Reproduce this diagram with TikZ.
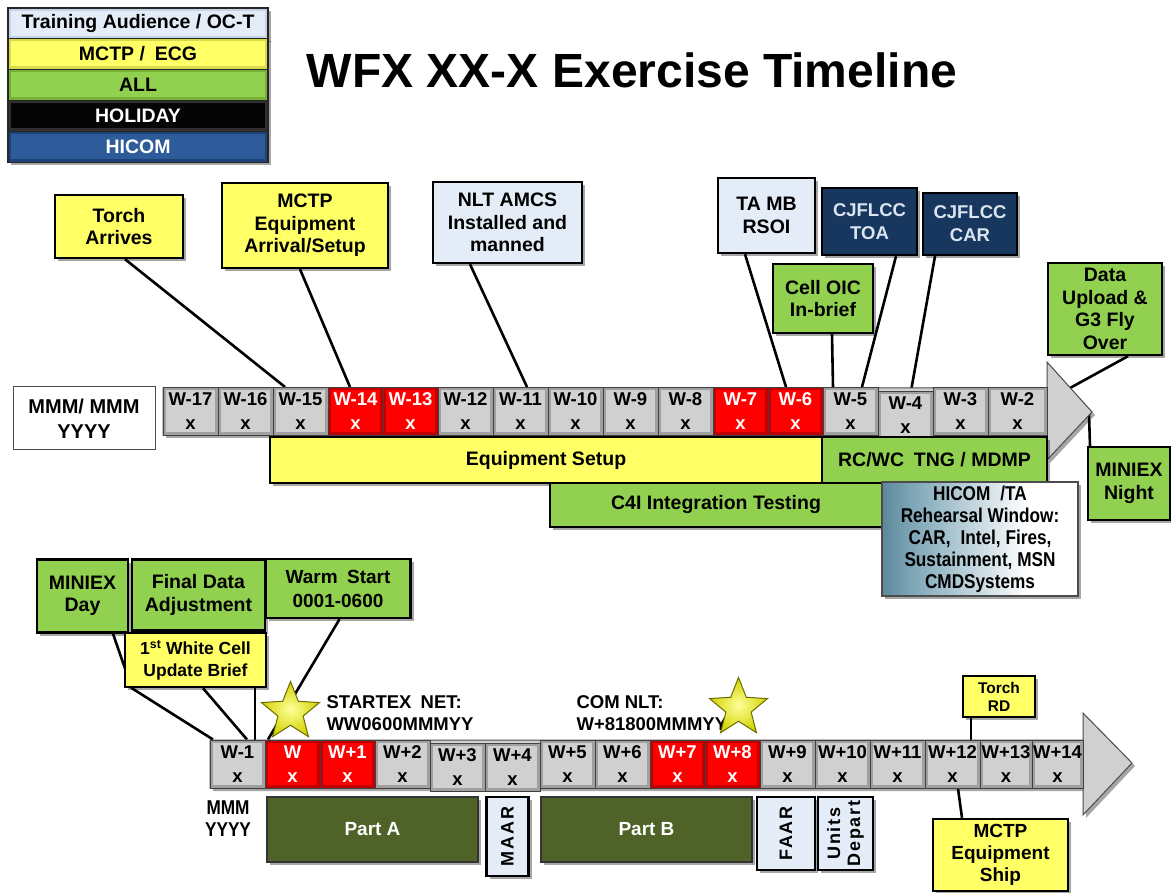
\documentclass[tikz,border=0pt]{standalone}
\usepackage{fontspec}
\setmainfont{Liberation Sans}
\newfontfamily\narrowsans[FakeStretch=0.86]{Liberation Sans}
\newfontfamily\spacedsans[LetterSpace=10]{Liberation Sans}
\usetikzlibrary{shapes.geometric,shadows}

\definecolor{cyellow}{HTML}{FFFF66}
\definecolor{cyellowd}{HTML}{D9D94C}
\definecolor{cgreen}{HTML}{92D050}
\definecolor{cgreend}{HTML}{76B036}
\definecolor{clight}{HTML}{E3ECF7}
\definecolor{clightd}{HTML}{C5D3E6}
\definecolor{cnavy}{HTML}{17375E}
\definecolor{cnavytext}{HTML}{DBE5F1}
\definecolor{cblue}{HTML}{2E5C9A}
\definecolor{cblued}{HTML}{1F4276}
\definecolor{cblack}{HTML}{050505}
\definecolor{cblackd}{HTML}{303030}
\definecolor{cgrey}{HTML}{D0D0D0}
\definecolor{cgreyd}{HTML}{A0A0A0}
\definecolor{cred}{HTML}{FF0000}
\definecolor{credd}{HTML}{C00000}
\definecolor{colive}{HTML}{4F6228}
\definecolor{hdark}{HTML}{1C4A60}
\definecolor{hmid}{HTML}{7FA7B8}
\definecolor{starin}{HTML}{FFFF9A}
\definecolor{starout}{HTML}{D2D200}
\definecolor{starline}{HTML}{6B6B00}

\pgfdeclarehorizontalshading{hicomgrad}{100bp}{color(0bp)=(hdark); color(9bp)=(hdark); color(33bp)=(hmid); color(62bp)=(white); color(100bp)=(white)}

\pgfdeclarelayer{paper}
\pgfdeclarelayer{links}
\pgfsetlayers{paper,links,main}

\tikzset{
  shad/.style={drop shadow={shadow xshift=3pt, shadow yshift=-3pt, opacity=0.35, fill=black}},
  bevel/.style 2 args={fill=#1, path picture={\fill[#2]
      ([shift={(3pt,-3pt)}]path picture bounding box.north west) rectangle
      ([shift={(-3pt,3pt)}]path picture bounding box.south east);}},
  callout/.style={draw=black, line width=2.4pt, align=center, inner sep=2pt, shad,
      font=\bfseries\fontsize{19.5}{22.5}\selectfont},
  yelbox/.style={callout, fill=cyellow},
  grnbox/.style={callout, fill=cgreen},
  lblbox/.style={callout, fill=clight},
  navbox/.style={callout, fill=cnavy, text=cnavytext, font=\bfseries\fontsize{18.5}{23}\selectfont},
  olvbox/.style={callout, fill=colive, text=white, line width=1.2pt, draw=black!80,
      font=\bfseries\fontsize{19}{22}\selectfont},
  week/.style={draw=black!75, line width=1pt, minimum width=55pt, minimum height=48pt,
      inner sep=0pt, align=center, font=\bfseries\fontsize{18.5}{24}\selectfont,
      bevel={cgreyd}{cgrey}},
  redweek/.style={week, bevel={credd}{cred}, text=white},
  lgrow/.style 2 args={draw=black!85, line width=1.2pt, minimum width=260pt,
      minimum height=31pt, inner sep=0pt, font=\bfseries\fontsize{19.5}{20}\selectfont,
      bevel={#1}{#2}, shad},
  link/.style={draw=black, line width=2.6pt},
  startag/.style={star, star points=5, star point ratio=2.3, minimum size=61pt,
      draw=starline, line width=1pt, inner color=starin, outer color=starout},
  note/.style={align=left, anchor=west, font=\bfseries\fontsize{18.5}{22}\selectfont}
}

\begin{document}
\begin{tikzpicture}[x=1pt,y=-1pt]
\useasboundingbox (0,0) rectangle (1171,893);
\begin{pgfonlayer}{paper}
  \fill[white] (0,0) rectangle (1171,893);
\end{pgfonlayer}

% ---------- legend ----------
\node[lgrow={clightd}{clight}] (lgta) at (138,23.5) {Training Audience / OC-T};
\node[lgrow={cyellowd}{cyellow}] (lgmctp) at (138,54) {MCTP /\enspace ECG};
\node[lgrow={cgreend}{cgreen}] (lgall) at (138,85) {ALL};
\node[lgrow={cblackd}{cblack}, text=white] (lghol) at (138,116) {HOLIDAY};
\node[lgrow={cblued}{cblue}, text=white] (lghicom) at (138,147) {HICOM};

% ---------- title ----------
\node[font=\bfseries\fontsize{48}{56}\selectfont] (title) at (632,70) {WFX XX-X Exercise Timeline};

% ---------- upper timeline ----------
\filldraw[fill=cgrey, draw=black!70, line width=1pt, shad]
  (163,388) -- (1047,388) -- (1047,362) -- (1092,412) -- (1047,460)
  -- (1047,435) -- (163,435) -- cycle;
\coordinate (headedge) at (1070,388);
\coordinate (tipdrop) at (1089,414);

\node[draw=black!70, line width=1pt, fill=white, minimum width=142pt, minimum height=63pt,
  align=center, font=\bfseries\fontsize{20}{25}\selectfont] (mmmtop) at (84,418.5) {MMM/ MMM\\YYYY};

\node[week] (wk17) at (190.5,411.5) {W-17\\x};
\node[week] (wk16) at (245.5,411.5) {W-16\\x};
\node[week] (wk15) at (300.5,411.5) {W-15\\x};
\node[redweek] (wk14) at (355.5,411.5) {W-14\\x};
\node[redweek] (wk13) at (410.5,411.5) {W-13\\x};
\node[week] (wk12) at (465.5,411.5) {W-12\\x};
\node[week] (wk11) at (520.5,411.5) {W-11\\x};
\node[week] (wk10) at (575.5,411.5) {W-10\\x};
\node[week] (wk9) at (630.5,411.5) {W-9\\x};
\node[week] (wk8) at (685.5,411.5) {W-8\\x};
\node[redweek] (wk7) at (740.5,411.5) {W-7\\x};
\node[redweek] (wk6) at (795.5,411.5) {W-6\\x};
\node[week] (wk5) at (850.5,411.5) {W-5\\x};
\node[week] (wk4) at (905.5,415.5) {W-4\\x};
\node[week] (wk3) at (960.5,411.5) {W-3\\x};
\node[week, minimum width=59pt] (wk2) at (1017.5,411.5) {W-2\\x};

% bars under the upper timeline
\node[yelbox, minimum width=552pt, minimum height=46pt] (eqsetup) at (546,460) {Equipment Setup};
\node[grnbox, minimum width=225pt, minimum height=46pt] (rcwc) at (934.5,460) {RC/WC\enspace TNG / MDMP};
\node[grnbox, minimum width=332pt, minimum height=44pt] (c4i) at (716,505) {C4I Integration Testing};
\node[callout, shade, shading=hicomgrad, draw=black!70, line width=1.5pt,
  minimum width=196pt, minimum height=114pt,
  font=\narrowsans\bfseries\fontsize{20}{22}\selectfont] (hicom) at (980,539)
  {HICOM\enspace/TA\\Rehearsal Window:\\CAR,\enspace Intel, Fires,\\Sustainment, MSN\\CMDSystems};

% upper callouts
\node[yelbox, minimum width=128pt, minimum height=63pt] (torch) at (119,226.5) {Torch\\Arrives};
\node[yelbox, minimum width=166pt, minimum height=85pt] (mctp) at (305,225.5) {MCTP\\Equipment\\Arrival/Setup};
\node[lblbox, minimum width=149pt, minimum height=81pt] (nlt) at (507.5,222.5) {NLT AMCS\\Installed and\\manned};
\node[lblbox, minimum width=97pt, minimum height=75pt] (tamb) at (766.5,215.5) {TA MB\\RSOI};
\node[navbox, minimum width=95pt, minimum height=67pt] (toa) at (869.5,221.5) {CJFLCC\\TOA};
\node[navbox, minimum width=94pt, minimum height=62pt] (car) at (970,224) {CJFLCC\\CAR};
\node[grnbox, minimum width=100pt, minimum height=69pt] (celloic) at (823,298.5) {Cell OIC\\In-brief};
\node[grnbox, minimum width=114pt, minimum height=92pt] (dataup) at (1105,309) {Data\\Upload \&\\G3 Fly\\Over};
\node[grnbox, minimum width=82pt, minimum height=73pt] (miniexn) at (1129,483.5) {MINIEX\\Night};

% ---------- lower timeline ----------
\filldraw[fill=cgrey, draw=black!70, line width=1pt, shad]
  (210,740) -- (1083,740) -- (1083,713) -- (1132,763) -- (1083,815)
  -- (1083,788) -- (210,788) -- cycle;

\node[week] (wm1) at (237.5,764) {W-1\\x};
\node[redweek] (w0) at (292.5,764) {W\\x};
\node[redweek] (wp1) at (347.5,764) {W+1\\x};
\node[week] (wp2) at (402.5,764) {W+2\\x};
\node[week] (wp3) at (457.5,767) {W+3\\x};
\node[week] (wp4) at (512.5,767) {W+4\\x};
\node[week] (wp5) at (567.5,764) {W+5\\x};
\node[week] (wp6) at (622.5,764) {W+6\\x};
\node[redweek] (wp7) at (677.5,764) {W+7\\x};
\node[redweek] (wp8) at (732.5,764) {W+8\\x};
\node[week] (wp9) at (787.5,764) {W+9\\x};
\node[week] (wp10) at (842.5,764) {W+10\\x};
\node[week] (wp11) at (897.5,764) {W+11\\x};
\node[week] (wp12) at (952.5,764) {W+12\\x};
\node[week, minimum width=52pt] (wp13) at (1006,764) {W+13\\x};
\node[week, minimum width=51pt] (wp14) at (1057.5,764) {W+14\\x};

\node[align=center, font=\narrowsans\bfseries\fontsize{20}{22}\selectfont] (mmmlow) at (228,819) {MMM\\YYYY};

% exercise blocks
\node[olvbox, minimum width=211pt, minimum height=65pt] (parta) at (372.5,829.5) {Part A};
\node[olvbox, minimum width=211pt, minimum height=65pt] (partb) at (646.5,829.5) {Part B};
\node[lblbox, rotate=90, minimum width=79pt, minimum height=42pt, inner sep=0pt,
  font=\spacedsans\bfseries\fontsize{18}{20}\selectfont] (maar) at (507.5,836.5) {MAAR};
\node[lblbox, rotate=90, minimum width=73pt, minimum height=58pt, inner sep=0pt,
  font=\spacedsans\bfseries\fontsize{18}{20}\selectfont] (faar) at (786,833.5) {FAAR};
\node[lblbox, rotate=90, minimum width=73pt, minimum height=55pt, inner sep=0pt,
  font=\spacedsans\bfseries\fontsize{18}{20}\selectfont] (units) at (845.5,833.5) {Units\\Depart};

% lower callouts
\node[grnbox, minimum width=91pt, minimum height=73pt] (miniexd) at (82.5,596) {MINIEX\\Day};
\node[grnbox, minimum width=133pt, minimum height=71pt] (finaldata) at (198.5,595) {Final Data\\Adjustment};
\node[grnbox, minimum width=145pt, minimum height=59pt,
  font=\bfseries\fontsize{19}{24}\selectfont] (warm) at (338,588.5) {Warm\enspace Start\\0001-0600};
\node[yelbox, minimum width=141pt, minimum height=54pt,
  font=\bfseries\fontsize{17.5}{22}\selectfont] (whitecell) at (195.5,660) {1\textsuperscript{st} White Cell\\Update Brief};
\node[yelbox, minimum width=72pt, minimum height=41pt,
  font=\bfseries\fontsize{15.5}{18}\selectfont] (torchrd) at (999,696.5) {Torch\\RD};
\node[yelbox, minimum width=135pt, minimum height=72pt,
  font=\bfseries\fontsize{19}{22}\selectfont] (mctpship) at (1000.5,855) {MCTP\\Equipment\\Ship};

% milestone notes and stars
\node[note] (startex) at (323,713) {STARTEX\enspace NET:\\WW0600MMMYY};
\node[note] (comnlt) at (573,713) {COM NLT:\\W+81800MMMYY};
\node[startag] (star1) at (290.5,712) {};
\node[startag] (star2) at (738.5,708) {};

% ---------- leader lines ----------
\begin{pgfonlayer}{links}
  \draw[link] ([xshift=6pt]torch.south) -- ([xshift=-15.5pt]wk15.north);
  \draw[link] ([xshift=-5pt]mctp.south) -- ([xshift=-5.5pt]wk14.north);
  \draw[link] ([xshift=-37.5pt]nlt.south) -- ([xshift=6.5pt]wk11.north);
  \draw[link] ([xshift=-21.5pt]tamb.south) -- ([xshift=-9.5pt]wk6.north);
  \draw[link] ([xshift=26.5pt]toa.south) -- ([xshift=11.5pt]wk5.north);
  \draw[link] ([xshift=-35pt]car.south) -- ([xshift=5.5pt]wk4.north);
  \draw[link] ([xshift=9pt]celloic.south) -- ([xshift=-17.5pt]wk5.north);
  \draw[link] ([xshift=23pt]dataup.south) -- (headedge);
  \draw[link] (tipdrop) -- ([xshift=-39pt]miniexn.north);

  \draw[link] ([xshift=30.5pt]miniexd.south) -- ([xshift=8pt]whitecell.south west)
    -- ([xshift=-24.5pt]wm1.north);
  \draw[link] ([xshift=56.5pt]finaldata.south) -- ([xshift=17.5pt]wm1.north);
  \draw[link] ([xshift=7.5pt]whitecell.south) -- ([xshift=9.5pt]wm1.north);
  \draw[link] ([xshift=1.5pt]warm.south) -- ([xshift=-24.5pt]w0.north);
  \draw[link] ([xshift=-28pt]torchrd.south) -- ([xshift=18.5pt]wp12.north);
  \draw[link] ([xshift=-38.5pt]mctpship.north) -- ([xshift=5.5pt]wp12.south);
\end{pgfonlayer}
\end{tikzpicture}
\end{document}
